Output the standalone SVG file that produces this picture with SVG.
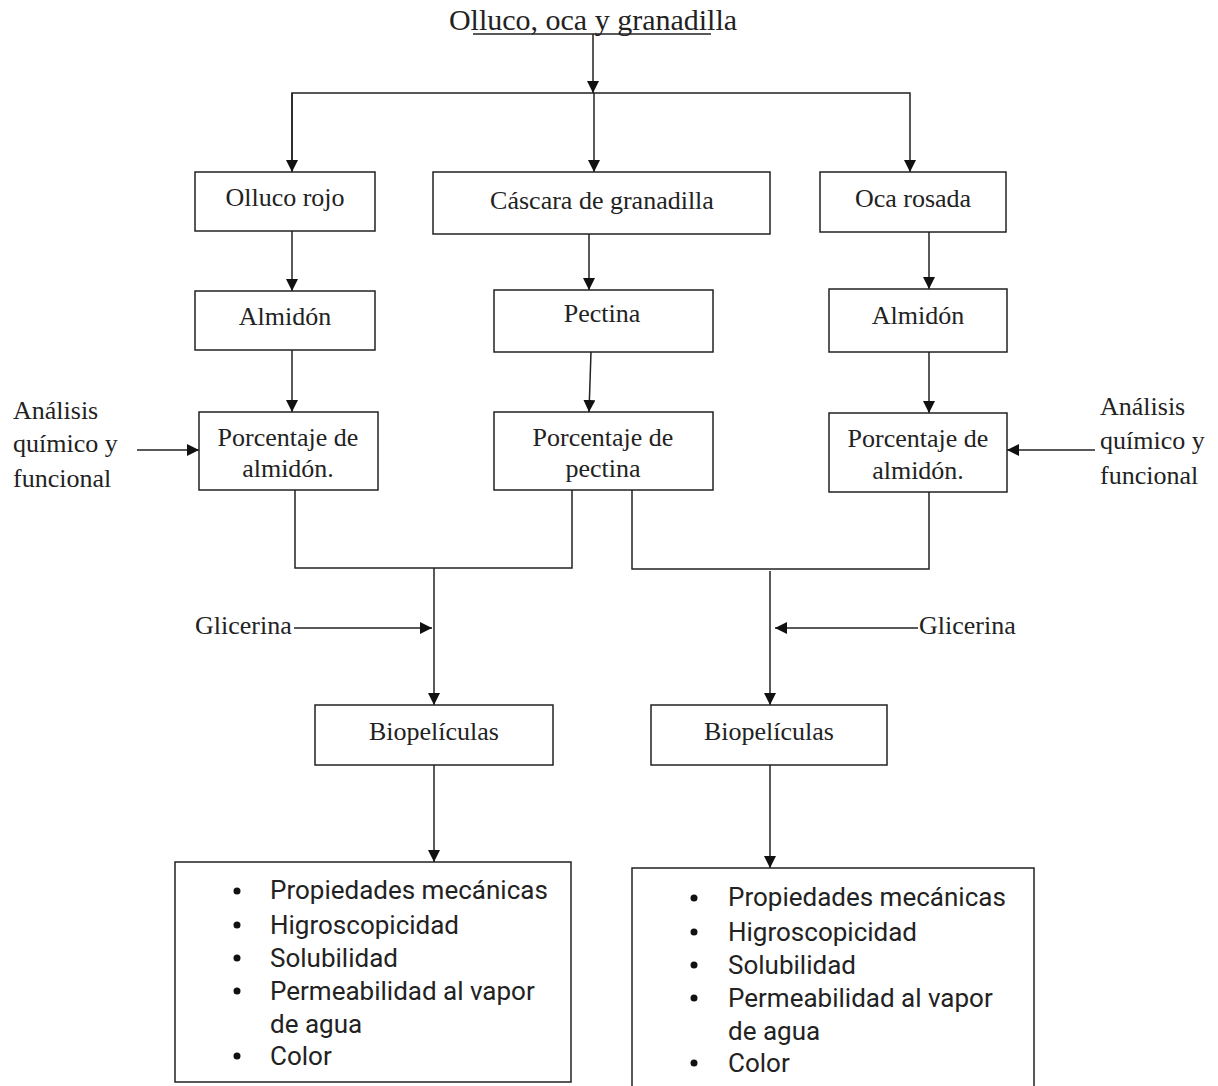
<svg xmlns="http://www.w3.org/2000/svg" width="1218" height="1086" viewBox="0 0 1218 1086">
<style>
.b{fill:#fff;stroke:#222;stroke-width:1.5}
.t{font-family:"Liberation Serif","Times New Roman",serif;font-size:26px;fill:#222}
.r{font-family:Roboto,"Liberation Sans",sans-serif;font-size:26px;fill:#222}
.c{stroke:#222;stroke-width:1.5;fill:none}
</style>
<defs>
<marker id="ab" viewBox="0 0 10 10" refX="10" refY="5" markerWidth="12" markerHeight="12" markerUnits="userSpaceOnUse" orient="auto"><path d="M0,0L10,5L0,10z" fill="#111"/></marker>
</defs>
<rect width="1218" height="1086" fill="#fff"/>
<g id="title">
<text class="t" x="593" y="30" text-anchor="middle" style="font-size:30px">Olluco, oca y granadilla</text>
<line class="c" x1="473" y1="34" x2="711" y2="34"/>
</g>
<g id="connectors">
<line class="c" x1="593" y1="34" x2="593" y2="93" marker-end="url(#ab)"/>
<polyline class="c" points="292,172 292,93 910,93 910,172" marker-end="url(#ab)"/>
<line class="c" x1="292" y1="93" x2="292" y2="172" marker-end="url(#ab)"/>
<line class="c" x1="594" y1="93" x2="594" y2="172" marker-end="url(#ab)"/>
<line class="c" x1="292" y1="231" x2="292" y2="291" marker-end="url(#ab)"/>
<line class="c" x1="589" y1="234" x2="589" y2="290" marker-end="url(#ab)"/>
<line class="c" x1="929" y1="232" x2="929" y2="289" marker-end="url(#ab)"/>
<line class="c" x1="292" y1="350" x2="292" y2="412" marker-end="url(#ab)"/>
<line class="c" x1="591" y1="352" x2="589" y2="412" marker-end="url(#ab)"/>
<line class="c" x1="929" y1="352" x2="929" y2="413" marker-end="url(#ab)"/>
<line class="c" x1="137" y1="450" x2="199" y2="450" marker-end="url(#ab)"/>
<line class="c" x1="1095" y1="450" x2="1007" y2="450" marker-end="url(#ab)"/>
<polyline class="c" points="295,490 295,568 572,568 572,490"/>
<polyline class="c" points="632,490 632,569 929,569 929,492"/>
<line class="c" x1="434" y1="568" x2="434" y2="705" marker-end="url(#ab)"/>
<line class="c" x1="770" y1="571" x2="770" y2="705" marker-end="url(#ab)"/>
<line class="c" x1="294" y1="628" x2="432" y2="628" marker-end="url(#ab)"/>
<line class="c" x1="918" y1="628" x2="775" y2="628" marker-end="url(#ab)"/>
<line class="c" x1="434" y1="765" x2="434" y2="862" marker-end="url(#ab)"/>
<line class="c" x1="770" y1="765" x2="770" y2="868" marker-end="url(#ab)"/>
</g>
<g id="olluco-rojo"><rect class="b" x="195" y="172" width="180" height="59"/><text class="t" x="285" y="206" text-anchor="middle">Olluco rojo</text></g>
<g id="cascara"><rect class="b" x="433" y="172" width="337" height="62"/><text class="t" x="602" y="209" text-anchor="middle">Cáscara de granadilla</text></g>
<g id="oca-rosada"><rect class="b" x="820" y="172" width="186" height="60"/><text class="t" x="913" y="207" text-anchor="middle">Oca rosada</text></g>
<g id="almidon-l"><rect class="b" x="195" y="291" width="180" height="59"/><text class="t" x="285" y="325" text-anchor="middle">Almidón</text></g>
<g id="pectina"><rect class="b" x="494" y="290" width="219" height="62"/><text class="t" x="602" y="322" text-anchor="middle">Pectina</text></g>
<g id="almidon-r"><rect class="b" x="829" y="289" width="178" height="63"/><text class="t" x="918" y="324" text-anchor="middle">Almidón</text></g>
<g id="porc-almidon-l"><rect class="b" x="199" y="412" width="179" height="78"/><text class="t" x="288" y="446" text-anchor="middle">Porcentaje de</text><text class="t" x="288" y="477" text-anchor="middle">almidón.</text></g>
<g id="porc-pectina"><rect class="b" x="494" y="412" width="219" height="78"/><text class="t" x="603" y="446" text-anchor="middle">Porcentaje de</text><text class="t" x="603" y="477" text-anchor="middle">pectina</text></g>
<g id="porc-almidon-r"><rect class="b" x="829" y="413" width="178" height="79"/><text class="t" x="918" y="447" text-anchor="middle">Porcentaje de</text><text class="t" x="918" y="479" text-anchor="middle">almidón.</text></g>
<g id="analisis-l"><text class="t" x="13" y="419">Análisis</text><text class="t" x="13" y="452">químico y</text><text class="t" x="13" y="487">funcional</text></g>
<g id="analisis-r"><text class="t" x="1100" y="415">Análisis</text><text class="t" x="1100" y="449">químico y</text><text class="t" x="1100" y="484">funcional</text></g>
<g id="glicerina-l"><text class="t" x="195" y="634">Glicerina</text></g>
<g id="glicerina-r"><text class="t" x="919" y="634">Glicerina</text></g>
<g id="biopeliculas-l"><rect class="b" x="315" y="705" width="238" height="60"/><text class="t" x="434" y="740" text-anchor="middle">Biopelículas</text></g>
<g id="biopeliculas-r"><rect class="b" x="651" y="705" width="236" height="60"/><text class="t" x="769" y="740" text-anchor="middle">Biopelículas</text></g>
<g id="props-l">
<rect class="b" x="175" y="862" width="396" height="220"/>
<g fill="#111"><circle cx="237" cy="891" r="3.5"/><circle cx="237" cy="925" r="3.5"/><circle cx="237" cy="958" r="3.5"/><circle cx="237" cy="991" r="3.5"/><circle cx="237" cy="1056" r="3.5"/></g>
<text class="r" x="270" y="899">Propiedades mecánicas</text>
<text class="r" x="270" y="934">Higroscopicidad</text>
<text class="r" x="270" y="967">Solubilidad</text>
<text class="r" x="270" y="1000">Permeabilidad al vapor</text>
<text class="r" x="270" y="1033">de agua</text>
<text class="r" x="270" y="1065">Color</text>
</g>
<g id="props-r">
<path class="c" d="M632,1090V868H1034V1090" style="fill:#fff"/>
<g fill="#111"><circle cx="694" cy="898" r="3.5"/><circle cx="694" cy="932" r="3.5"/><circle cx="694" cy="965" r="3.5"/><circle cx="694" cy="998" r="3.5"/><circle cx="694" cy="1063" r="3.5"/></g>
<text class="r" x="728" y="906">Propiedades mecánicas</text>
<text class="r" x="728" y="941">Higroscopicidad</text>
<text class="r" x="728" y="974">Solubilidad</text>
<text class="r" x="728" y="1007">Permeabilidad al vapor</text>
<text class="r" x="728" y="1040">de agua</text>
<text class="r" x="728" y="1072">Color</text>
</g>
</svg>
